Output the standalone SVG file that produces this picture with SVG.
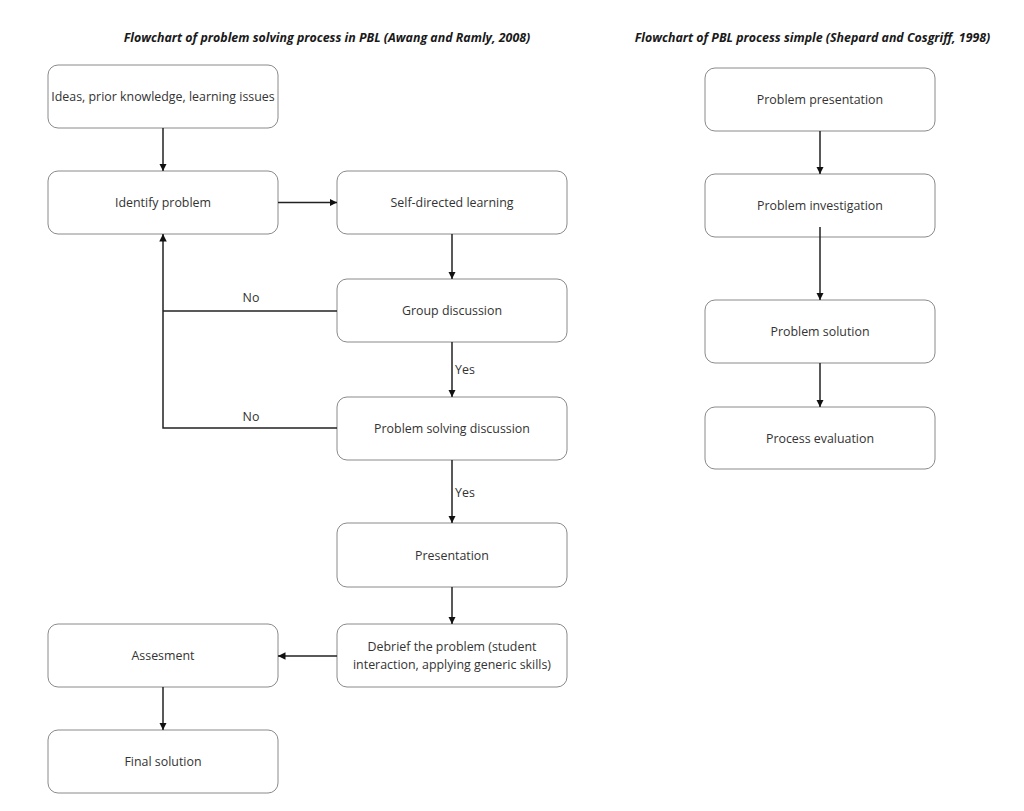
<svg xmlns="http://www.w3.org/2000/svg" width="1024" height="811" viewBox="0 0 1024 811">
<style>
.box{fill:#ffffff;stroke:#8a8a8a;stroke-width:1}
.t{font-family:"Open Sans","Liberation Sans",sans-serif;font-size:12.4px;fill:#333333;text-anchor:middle;dominant-baseline:central}
.title{font-family:"Open Sans","Liberation Sans",sans-serif;font-size:12.4px;font-weight:bold;font-style:italic;fill:#1a1a1a;text-anchor:middle;dominant-baseline:central}
.c{fill:none;stroke:#222222;stroke-width:1.5}
.lbl{font-family:"Open Sans","Liberation Sans",sans-serif;font-size:12.4px;fill:#333333;dominant-baseline:central}
</style>
<defs>
<marker id="ah" viewBox="0 0 10 10" refX="10" refY="5" markerWidth="5" markerHeight="5" markerUnits="strokeWidth" orient="auto">
<path d="M0,0 L10,5 L0,10 z" fill="#111111"/>
</marker>
</defs>
<rect width="1024" height="811" fill="#ffffff"/>
<text class="title" x="327" y="37">Flowchart of problem solving process in PBL (Awang and Ramly, 2008)</text>
<text class="title" x="812.5" y="37">Flowchart of PBL process simple (Shepard and Cosgriff, 1998)</text>

<g id="ideas"><rect class="box" x="48" y="65" width="230" height="63" rx="10"/><text class="t" x="163" y="96.5">Ideas, prior knowledge, learning issues</text></g>
<g id="identify"><rect class="box" x="48" y="171" width="230" height="63" rx="10"/><text class="t" x="163" y="202.5">Identify problem</text></g>
<g id="selfdirected"><rect class="box" x="337" y="171" width="230" height="63" rx="10"/><text class="t" x="452" y="202.5">Self-directed learning</text></g>
<g id="group"><rect class="box" x="337" y="279" width="230" height="63" rx="10"/><text class="t" x="452" y="310.5">Group discussion</text></g>
<g id="psd"><rect class="box" x="337" y="397" width="230" height="63" rx="10"/><text class="t" x="452" y="428.5">Problem solving discussion</text></g>
<g id="presentation"><rect class="box" x="337" y="523" width="230" height="64" rx="10"/><text class="t" x="452" y="555">Presentation</text></g>
<g id="debrief"><rect class="box" x="337" y="624" width="230" height="63" rx="10"/><text class="t" x="452" y="646">Debrief the problem (student</text><text class="t" x="452" y="664">interaction, applying generic skills)</text></g>
<g id="assesment"><rect class="box" x="48" y="624" width="230" height="63" rx="10"/><text class="t" x="163" y="655.5">Assesment</text></g>
<g id="final"><rect class="box" x="48" y="730" width="230" height="63" rx="10"/><text class="t" x="163" y="761.5">Final solution</text></g>

<g id="ppresentation"><rect class="box" x="705" y="68" width="230" height="63" rx="10"/><text class="t" x="820" y="99.5">Problem presentation</text></g>
<g id="pinvestigation"><rect class="box" x="705" y="174" width="230" height="63" rx="10"/><text class="t" x="820" y="205.5">Problem investigation</text></g>
<g id="psolution"><rect class="box" x="705" y="300" width="230" height="63" rx="10"/><text class="t" x="820" y="331.5">Problem solution</text></g>
<g id="pevaluation"><rect class="box" x="705" y="407" width="230" height="62" rx="10"/><text class="t" x="820" y="438">Process evaluation</text></g>

<g id="connectors">
<path class="c" d="M163,128 V171" marker-end="url(#ah)"/>
<path class="c" d="M278,202.5 H337" marker-end="url(#ah)"/>
<path class="c" d="M452,234 V279" marker-end="url(#ah)"/>
<path class="c" d="M337,311 H163" />
<path class="c" d="M337,428 H163 V234" marker-end="url(#ah)"/>
<text class="lbl" x="251" y="297" text-anchor="middle">No</text>
<text class="lbl" x="251" y="416" text-anchor="middle">No</text>
<path class="c" d="M452,342 V397" marker-end="url(#ah)"/>
<text class="lbl" x="455" y="369">Yes</text>
<path class="c" d="M452,460 V523" marker-end="url(#ah)"/>
<text class="lbl" x="455" y="492">Yes</text>
<path class="c" d="M452,587 V624" marker-end="url(#ah)"/>
<path class="c" d="M337,656 H278" marker-end="url(#ah)"/>
<path class="c" d="M163,687 V730" marker-end="url(#ah)"/>
<path class="c" d="M820,131 V174" marker-end="url(#ah)"/>
<path class="c" d="M820,227 V300" marker-end="url(#ah)"/>
<path class="c" d="M820,363 V407" marker-end="url(#ah)"/>
</g>
</svg>
